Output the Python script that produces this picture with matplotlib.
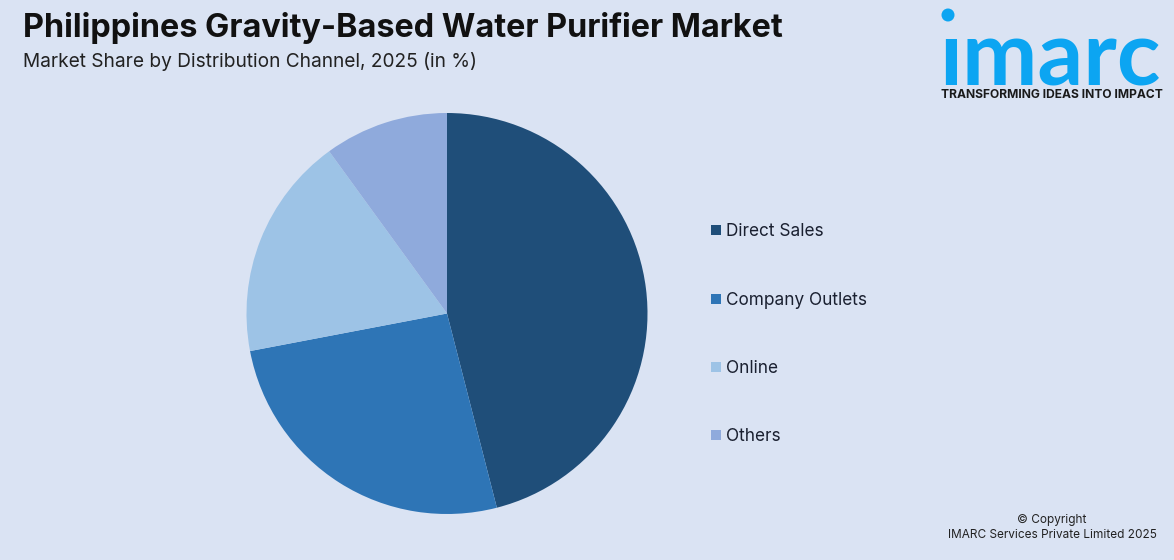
import matplotlib
matplotlib.use('Agg')
import matplotlib.pyplot as plt
from matplotlib.patches import Rectangle, Circle

categories = ['Direct Sales', 'Company Outlets', 'Online', 'Others']
shares = [46, 26, 18, 10]
colors = ['#1F4E79', '#2E75B6', '#9DC3E6', '#8FAADC']
legend_y = [230, 299, 367, 435]

bg = '#DAE3F3'
W, H = 1174, 560

plt.rcParams['font.family'] = ['Inter', 'DejaVu Sans']

fig = plt.figure(figsize=(W / 100, H / 100), dpi=100, facecolor=bg)

# pixel coordinate layer for the text and logo
ax = fig.add_axes([0, 0, 1, 1])
ax.set_xlim(0, W)
ax.set_ylim(H, 0)
ax.axis('off')

cx, cy, r = 447, 313.5, 200.5
pie_ax = fig.add_axes([(cx - r) / W, 1 - (cy + r) / H, 2 * r / W, 2 * r / H])
pie_ax.pie(shares, colors=colors, startangle=90, counterclock=False, radius=1)
pie_ax.set_xlim(-1, 1)
pie_ax.set_ylim(-1, 1)

ax.text(23, 28, 'Philippines Gravity-Based Water Purifier Market', fontsize=23.3,
        fontweight='bold', color='#111111', va='center', ha='left')
ax.text(23, 61.5, 'Market Share by Distribution Channel, 2025 (in %)', fontsize=13.75,
        color='#222222', va='center', ha='left')

for name, col, y in zip(categories, colors, legend_y):
    ax.add_patch(Rectangle((711, y - 5), 10, 10, facecolor=col, edgecolor='none'))
    ax.text(726, y + 1.5, name, fontsize=12.4, color='#1a2030', va='center', ha='left')

# logo
ax.add_patch(Circle((948, 15), 6.5, facecolor='#0CA5F2', edgecolor='none'))
ax.text(939, 85, '\u0131marc', fontsize=65, fontweight='bold', family=['Lato', 'DejaVu Sans'],
        color='#0CA5F2', va='baseline', ha='left')
ax.text(1052, 95.5, 'TRANSFORMING IDEAS INTO IMPACT', fontsize=8.7, fontweight='bold',
        color='#1a1a1a', va='center', ha='center')

ax.text(1052, 519.5, '© Copyright', fontsize=8.5, color='#222222', va='center', ha='center')
ax.text(1052, 535.5, 'IMARC Services Private Limited 2025', fontsize=8.5, color='#222222',
        va='center', ha='center')

fig.savefig('out.png', dpi=100, facecolor=bg)
